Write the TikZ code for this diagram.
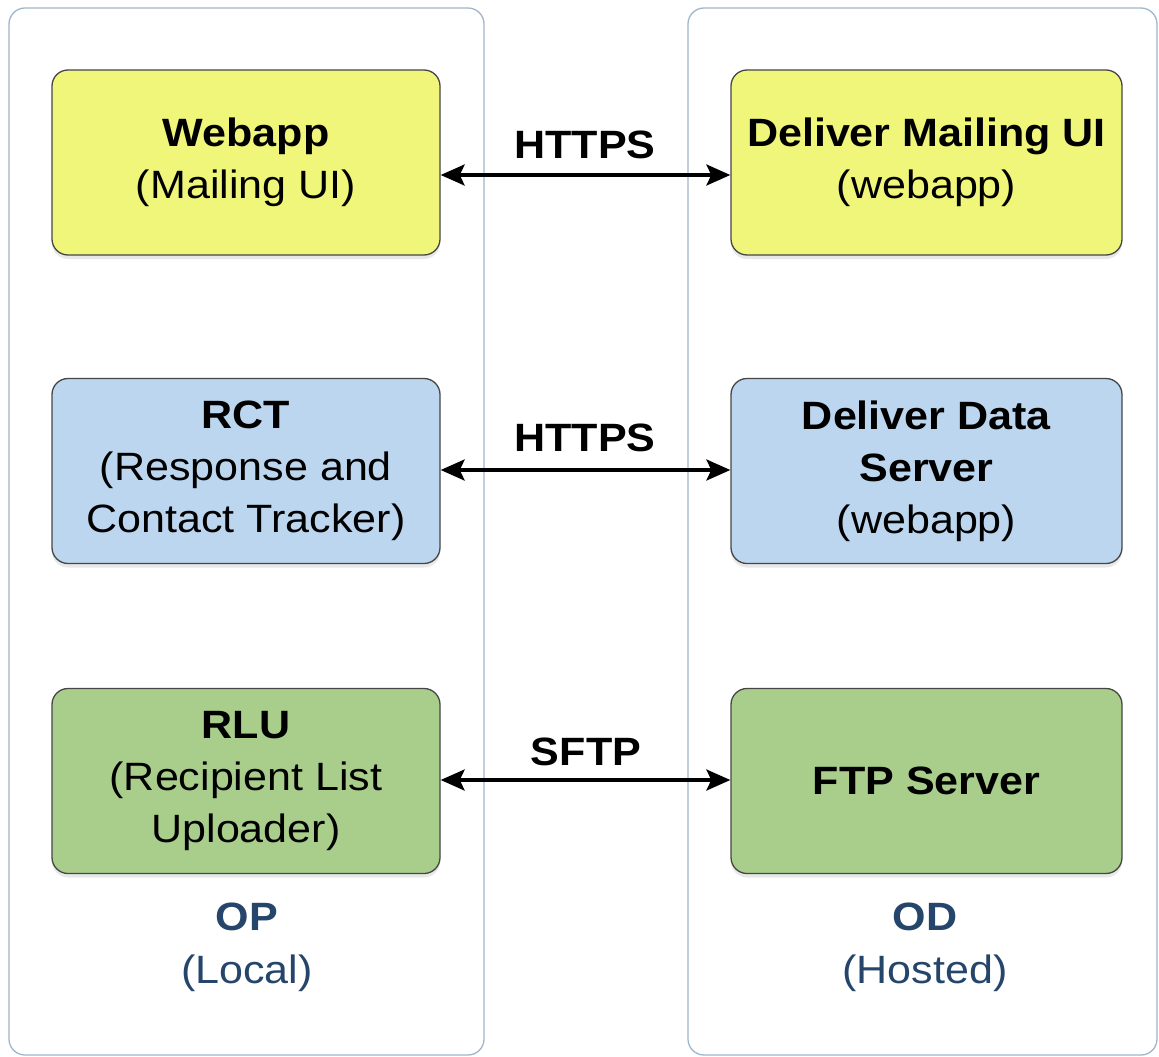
\documentclass[tikz,border=0pt]{standalone}
\usepackage{fontspec}
\setmainfont{Liberation Sans}[FakeStretch=1.09]
\usetikzlibrary{arrows.meta,shadows}
\definecolor{yelfill}{RGB}{240,246,122}
\definecolor{bluefill}{RGB}{187,214,238}
\definecolor{greenfill}{RGB}{169,206,140}
\definecolor{panelline}{RGB}{160,182,204}
\definecolor{sidetext}{RGB}{37,69,107}
\definecolor{boxline}{RGB}{70,70,70}
\tikzset{
  panel/.style={draw=panelline, line width=1.3pt, rounded corners=16pt, fill=white},
  compbox/.style={draw=boxline, line width=1.3pt, rounded corners=16pt,
    minimum width=388pt, minimum height=185pt, align=center, inner sep=0pt,
    font=\fontsize{39.5}{52}\selectfont,
    drop shadow={opacity=0.18, shadow xshift=0pt, shadow yshift=-4pt}},
  proto/.style={font=\fontsize{39.5}{46}\selectfont\bfseries, inner sep=0pt},
  sidelabel/.style={align=center, text=sidetext, font=\fontsize{39.5}{53}\selectfont},
  link/.style={line width=3.6pt, {Stealth[length=24pt,width=21pt,inset=5pt]}-{Stealth[length=24pt,width=21pt,inset=5pt]}}
}
\begin{document}
\begin{tikzpicture}[x=1pt,y=-1pt]
\useasboundingbox (0,0) rectangle (1159,1057);
\fill[white] (0,0) rectangle (1159,1057);
% panels
\draw[panel] (9,8) rectangle (484,1055);
\draw[panel] (688,8) rectangle (1157,1055);
% boxes
\node[compbox, fill=yelfill] (web) at (246,162.5) {\textbf{Webapp}\\(Mailing UI)};
\node[compbox, fill=yelfill, minimum width=391pt] (dmu) at (926.5,162.5) {\textbf{Deliver Mailing UI}\\(webapp)};
\node[compbox, fill=bluefill] (rct) at (246,471) {\textbf{RCT}\\(Response and\\Contact Tracker)};
\node[compbox, fill=bluefill, minimum width=391pt] (dds) at (926.5,471) {\textbf{Deliver Data}\\\textbf{Server}\\(webapp)};
\node[compbox, fill=greenfill] (rlu) at (246,781) {\textbf{RLU}\\(Recipient List\\Uploader)};
\node[compbox, fill=greenfill, minimum width=391pt] (ftp) at (926.5,781) {\textbf{FTP Server}};
% connectors
\draw[link] (web.east |- 0,175) -- (dmu.west |- 0,175);
\draw[link] (rct.east |- 0,470) -- (dds.west |- 0,470);
\draw[link] (rlu.east |- 0,780) -- (ftp.west |- 0,780);
\node[proto] (l1) at (585,145) {HTTPS};
\node[proto] (l2) at (585,438) {HTTPS};
\node[proto] (l3) at (586,752) {SFTP};
% side labels
\node[sidelabel] (op) at (247,947) {\textbf{OP}\\(Local)};
\node[sidelabel] (od) at (925,947) {\textbf{OD}\\(Hosted)};
\end{tikzpicture}
\end{document}
